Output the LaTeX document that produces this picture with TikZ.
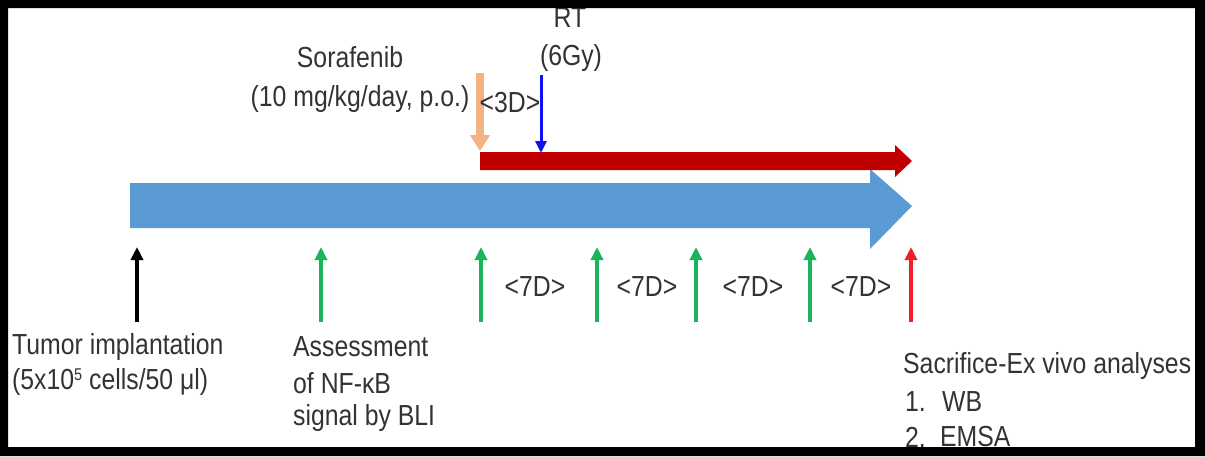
\documentclass[tikz,border=0pt]{standalone}
\usepackage{fontspec}
\setmainfont[FakeStretch=0.855]{Liberation Sans}
\usetikzlibrary{arrows.meta}
\definecolor{txt}{HTML}{333333}
\definecolor{bigblue}{HTML}{5B9BD5}
\definecolor{bigred}{HTML}{C00000}
\definecolor{peach}{HTML}{F4B183}
\definecolor{rtblue}{HTML}{1010F0}
\definecolor{grn}{HTML}{1DB35A}
\definecolor{endred}{HTML}{F0202A}
\tikzset{
  lbl/.style={text=txt, inner sep=0pt, font=\fontsize{29}{35}\selectfont},
  lblw/.style={lbl, anchor=west},
  uparrow/.style={line width=3.6pt, -{Triangle[width=12pt,length=13pt]}},
  downarrow/.style={line width=3pt, -{Triangle[width=11pt,length=12pt]}},
}
\begin{document}
\begin{tikzpicture}[x=1pt,y=-1pt]
\useasboundingbox (0,0) rectangle (1205,456);
\fill[white] (0,0) rectangle (1205,456);

% big timeline arrows
\fill[bigblue] (130,183) -- (870,183) -- (870,169) -- (912,206) -- (870,249) -- (870,228) -- (130,228) -- cycle;
\fill[bigred] (480,152) -- (895,152) -- (895,145) -- (912,161) -- (895,177) -- (895,170) -- (480,170) -- cycle;

% top treatment arrows
\coordinate (sorA) at (480,73);
\coordinate (sorB) at (480,151);
\coordinate (rtA) at (541,75);
\coordinate (rtB) at (541,153);
\draw[peach, line width=8pt, -{Triangle[width=19pt,length=16pt]}] (sorA) -- (sorB);
\draw[rtblue, downarrow] (rtA) -- (rtB);

\node[lbl] (sora) at (350,57) {Sorafenib};
\node[lbl] (dose) at (360,99) {(10 mg/kg/day, p.o.)};
\node[lbl] (d3) at (510,103) {<3D>};
\node[lbl] (rt) at (570,18) {RT};
\node[lbl] (gy) at (571,58) {(6Gy)};

% bottom time points
\foreach \n/\x/\c in {t0/137/black, t1/321/grn, t2/481/grn, t3/597/grn, t4/696/grn, t5/810/grn, t6/911/endred}{
  \coordinate (\n a) at (\x,322);
  \coordinate (\n b) at (\x,247);
  \draw[\c, uparrow] (\n a) -- (\n b);
}

\node[lbl] (w1) at (535,287) {<7D>};
\node[lbl] (w2) at (647,287) {<7D>};
\node[lbl] (w3) at (753,287) {<7D>};
\node[lbl] (w4) at (861,287) {<7D>};

\node[lblw] (ti1) at (12,347) {Tumor implantation};
\node[lblw] (ti2) at (12,382) {(5x10\raisebox{9pt}{\fontsize{17}{17}\selectfont 5} cells/50 μl)};

\node[lblw] (as1) at (293,347) {Assessment};
\node[lblw] (as2) at (293,383) {of NF-κB};
\node[lblw] (as3) at (293,418) {signal by BLI};

\node[lblw] (sa1) at (903,366) {Sacrifice-Ex vivo analyses};
\node[lblw] (sa2n) at (905,402) {1.};
\node[lblw] (sa2) at (942,402) {WB};
\node[lblw] (sa3n) at (905,437) {2.};
\node[lblw] (sa3) at (940,437) {EMSA};

% black frame
\fill[black, even odd rule] (0,0) rectangle (1205,456) (8,8) rectangle (1195,447);
\end{tikzpicture}
\end{document}
